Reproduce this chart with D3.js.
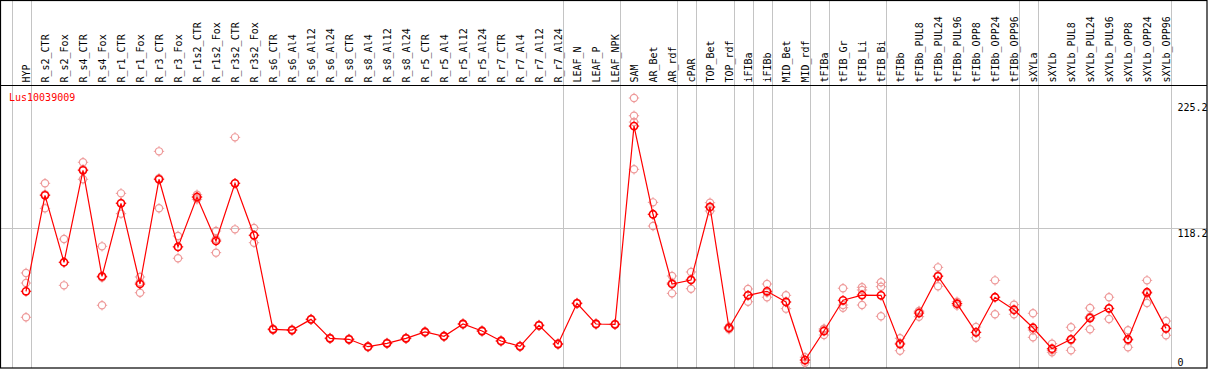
<!DOCTYPE html>
<html><head><meta charset="utf-8">
<script src="https://cdn.jsdelivr.net/npm/d3@7"></script>
<style>
html,body{margin:0;padding:0;background:#fff;}
svg{display:block;}
text{font-family:"DejaVu Sans Mono",monospace;font-size:10px;}
</style></head>
<body>
<svg id="chart" width="1209" height="370"></svg>
<script>
const title = "Lus10039009";
const categories = ["HYP","R_s2_CTR","R_s2_Fox","R_s4_CTR","R_s4_Fox","R_r1_CTR","R_r1_Fox","R_r3_CTR","R_r3_Fox","R_r1s2_CTR","R_r1s2_Fox","R_r3s2_CTR","R_r3s2_Fox","R_s6_CTR","R_s6_Al4","R_s6_Al12","R_s6_Al24","R_s8_CTR","R_s8_Al4","R_s8_Al12","R_s8_Al24","R_r5_CTR","R_r5_Al4","R_r5_Al12","R_r5_Al24","R_r7_CTR","R_r7_Al4","R_r7_Al12","R_r7_Al24","LEAF_N","LEAF_P","LEAF_NPK","SAM","AR_Bet","AR_rdf","cPAR","TOP_Bet","TOP_rdf","iFIBa","iFIBb","MID_Bet","MID_rdf","tFIBa","tFIB_Gr","tFIB_Li","tFIB_Bi","tFIBb","tFIBb_PUL8","tFIBb_PUL24","tFIBb_PUL96","tFIBb_OPP8","tFIBb_OPP24","tFIBb_OPP96","sXYLa","sXYLb","sXYLb_PUL8","sXYLb_PUL24","sXYLb_PUL96","sXYLb_OPP8","sXYLb_OPP24","sXYLb_OPP96"];
const groupEnds = ["HYP","R_r7_Al24","LEAF_NPK","AR_rdf","cPAR","TOP_rdf","iFIBa","iFIBb","MID_rdf","tFIBa","tFIB_Bi","tFIBb_OPP96","sXYLa","sXYLb_OPP96"];
const means = [66.1,145.1,90.0,165.7,78.4,138.5,72.1,158.3,102.6,143.7,107.5,155.0,112.2,34.8,34.2,43.0,27.4,26.6,20.5,23.3,27.4,32.6,29.1,39.2,33.4,25.2,20.8,38.1,22.7,56.2,39.2,38.9,202.1,129.5,72.1,75.4,135.5,35.9,62.8,66.1,57.3,9.5,33.4,58.7,63.0,62.8,22.7,48.2,78.4,55.9,32.3,61.2,50.9,36.1,18.8,26.6,44.1,52.1,26.6,65.3,35.6];
const replicates = [
 [81.2,72.9,44.7],[155.0,134.4,145.9],[109.1,71.0,89.9],[172.3,158.3,166.5],[103.1,54.6,77.5],
 [146.7,130.0,138.8],[77.9,64.9,73.5],[181.3,134.4,159.2],[111.6,93.3,102.9],[145.6,143.7,141.8],
 [115.7,97.9,108.9],[192.8,117.1,155.1],[118.2,106.1,112.3],[35.3,34.8,34.3],[34.6,34.2,33.8],
 [43.4,43.0,42.6],[27.8,27.4,27.0],[27.0,26.6,26.2],[20.9,20.5,20.1],[23.7,23.3,22.9],
 [27.8,27.4,27.0],[33.0,32.6,32.2],[29.5,29.1,28.7],[39.6,39.2,38.8],[33.8,33.4,33.0],
 [25.6,25.2,24.8],[21.2,20.8,20.4],[38.5,38.1,37.7],[23.1,22.7,22.3],[56.6,56.2,55.8],
 [39.6,39.2,38.8],[39.3,38.9,38.5],[225.2,210.6,205.4,166.5],[139.3,119.8,129.4],[78.7,64.4,73.2],
 [82.0,68.2,76.0],[139.0,132.2,135.3],[37.0,35.9,34.8],[68.0,57.5,62.9],[72.1,61.2,65.0],
 [62.8,51.8,57.3],[11.8,7.3,9.4],[35.3,30.1,34.8],[68.6,52.6,54.8],[69.4,67.2,54.8],
 [73.5,69.9,45.5],[27.4,17.2,23.5],[49.9,45.2,49.5],[85.8,70.2,79.2],[57.5,55.9,54.3],
 [36.7,27.9,32.3],[75.1,47.2,61.3],[55.1,47.2,50.4],[48.0,34.2,28.2],[23.0,15.9,17.5],
 [36.5,17.5,25.8],[52.3,34.8,45.2],[61.2,43.3,51.8],[34.0,20.0,25.8],[75.1,56.5,64.3],[41.6,29.9,35.3]
];
const tickValues = [225.2, 118.2, 0];
const tickLabels = ["225.2", "118.2", "0"];
const gridValues = [118.2];

const frameL = 1, frameR = 1207, frameT = 1, frameB = 368, headerY = 85;
const svg = d3.select("#chart");

const xBand = d3.scaleBand().domain(categories).range([11.7, 11.7 + 19 * categories.length]);
const px = c => xBand(c) + 14.3;
const y = d3.scaleLinear().domain([0, 225.2]).range([371.6, 98]);

const red = "#ff0000", pink = "#ee9a9a", grid = "#c4c4c4";

// horizontal grid
svg.append("g").selectAll("line").data(gridValues).join("line")
  .attr("x1", frameL).attr("x2", frameR)
  .attr("y1", d => Math.round(y(d)) + 0.5).attr("y2", d => Math.round(y(d)) + 0.5)
  .attr("stroke", grid).attr("stroke-width", 1);

// vertical separators
const seps = [xBand.range()[0]].concat(groupEnds.map(c => xBand(c) + xBand.step()));
svg.append("g").selectAll("line").data(seps).join("line")
  .attr("x1", d => Math.round(d) + 0.5).attr("x2", d => Math.round(d) + 0.5)
  .attr("y1", frameT).attr("y2", frameB)
  .attr("stroke", grid).attr("stroke-width", 1);

// frame
svg.append("rect").attr("x", frameL - 0.5).attr("y", frameT - 0.5)
  .attr("width", frameR - frameL + 0.5).attr("height", frameB - frameT + 0.5)
  .attr("fill", "none").attr("stroke", "#000").attr("stroke-width", 1.2);
svg.append("line").attr("x1", 0).attr("x2", frameR).attr("y1", headerY + 0.5).attr("y2", headerY + 0.5)
  .attr("stroke", "#000").attr("stroke-width", 1.2);

// header labels
svg.append("g").selectAll("text").data(categories).join("text")
  .attr("transform", c => `translate(${px(c) + 3.5},82.5) rotate(-90)`)
  .attr("text-anchor", "start").attr("fill", "#000").text(c => c);

// title
svg.append("text").attr("x", 9).attr("y", 101).attr("fill", red).text(title);

// right axis labels
svg.append("g").selectAll("text").data(tickValues).join("text")
  .attr("x", 1177.5).attr("text-anchor", "start").attr("fill", "#000")
  .attr("y", d => Math.max(111, Math.min(366, y(d) + 9)))
  .text((d, i) => tickLabels[i]);

function marker(g, color, sw) {
  g.append("circle").attr("r", 3.6).attr("fill", "none").attr("stroke", color).attr("stroke-width", sw);
  [[0,-3.6,0,-5.2],[0,3.6,0,5.2],[-3.6,0,-5.2,0],[3.6,0,5.2,0]].forEach(s =>
    g.append("line").attr("x1", s[0]).attr("y1", s[1]).attr("x2", s[2]).attr("y2", s[3])
      .attr("stroke", color).attr("stroke-width", 1));
}

// replicate markers
const repData = [];
categories.forEach((c, i) => replicates[i].forEach(v => repData.push({c, v})));
svg.append("g").selectAll("g").data(repData).join("g")
  .attr("transform", d => `translate(${px(d.c)},${y(d.v)})`)
  .each(function() { marker(d3.select(this), pink, 1.2); });

// mean line
const line = d3.line().x((d, i) => px(categories[i])).y(d => y(d));
svg.append("path").datum(means).attr("d", line).attr("fill", "none").attr("stroke", red).attr("stroke-width", 1.2);

// mean markers
svg.append("g").selectAll("g").data(means).join("g")
  .attr("transform", (d, i) => `translate(${px(categories[i])},${y(d)})`)
  .each(function() { marker(d3.select(this), red, 1.6); });
</script>
</body></html>
